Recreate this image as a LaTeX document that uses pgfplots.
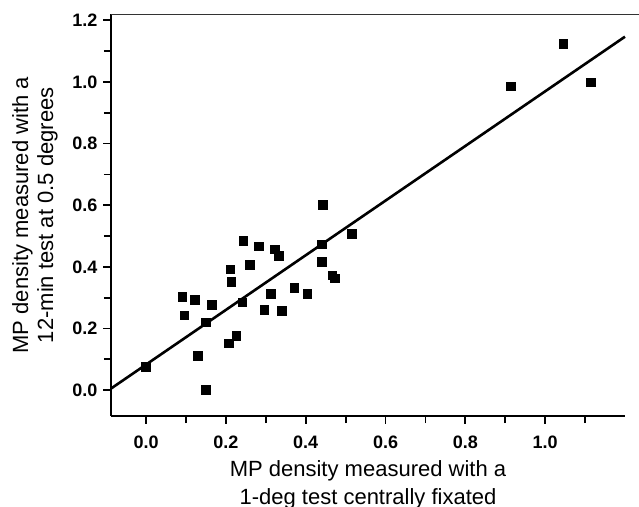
\documentclass[border=0pt]{standalone}
\usepackage{pgfplots}
\pgfplotsset{compat=1.18}
\usepackage{fontspec}
\setmainfont{Liberation Sans}

\begin{document}
\begin{tikzpicture}
\begin{axis}[
  scale only axis, width=257pt, height=200.75pt,
  xmin=-0.088, xmax=1.2, ymin=-0.084, ymax=1.219,
  clip=false,
  axis x line*=bottom, axis y line*=left,
  axis line style={-, line width=1.1pt, black},
  tick align=outside, major tick length=3.8pt, minor tick length=3.6pt,
  tick style={line width=0.9pt, black},
  xtick={0,0.2,0.4,0.6,0.8,1.0}, minor xtick={0.1,0.3,0.5,0.7,0.9,1.1},
  ytick={0,0.2,0.4,0.6,0.8,1.0,1.2}, minor ytick={0.1,0.3,0.5,0.7,0.9,1.1},
  tick label style={font=\fontsize{9}{10}\selectfont\bfseries},
  xticklabel style={yshift=-2.8pt},
  yticklabel style={xshift=0.5pt},
  /pgf/number format/assume math mode=true,
  /pgf/number format/fixed, /pgf/number format/fixed zerofill,
  /pgf/number format/precision=1,
  xlabel={MP density measured with a\\1-deg test centrally fixated},
  xlabel style={align=center, font=\fontsize{11}{14.2}\selectfont,
    at={([yshift=-18.7pt]axis description cs:0.5,0)}, anchor=north},
  ylabel={MP density measured with a\\12-min test at 0.5 degrees},
  ylabel style={align=center, font=\fontsize{11}{12.5}\selectfont,
    at={([xshift=-23.1pt]axis description cs:0,0.5)}, anchor=south},
]
% measured points
\addplot[only marks, mark=square*, mark size=2.15pt, black] coordinates {
  (0.000,0.076) (0.091,0.303) (0.096,0.243) (0.122,0.292) (0.130,0.111)
  (0.150,0.220) (0.150,0.000) (0.165,0.276) (0.207,0.152) (0.226,0.176)
  (0.211,0.392) (0.214,0.352) (0.241,0.284) (0.244,0.485) (0.260,0.406)
  (0.282,0.466) (0.296,0.260) (0.313,0.312) (0.322,0.457) (0.333,0.436)
  (0.340,0.257) (0.372,0.331) (0.404,0.312) (0.443,0.602) (0.441,0.473)
  (0.441,0.417) (0.467,0.372) (0.473,0.363) (0.515,0.506) (0.914,0.985)
  (1.046,1.124) (1.114,0.998)
};
% fitted line
\addplot[black, line width=1.3pt] coordinates {(-0.088,0.005) (1.2,1.147)};
\draw[line width=0.9pt, black!80] (rel axis cs:0,1) -- (rel axis cs:1.027,1);
\end{axis}
\pgfresetboundingbox
\path[use as bounding box] (-55.5pt,-45.5pt) rectangle (264pt,208pt);
\end{tikzpicture}
\end{document}
